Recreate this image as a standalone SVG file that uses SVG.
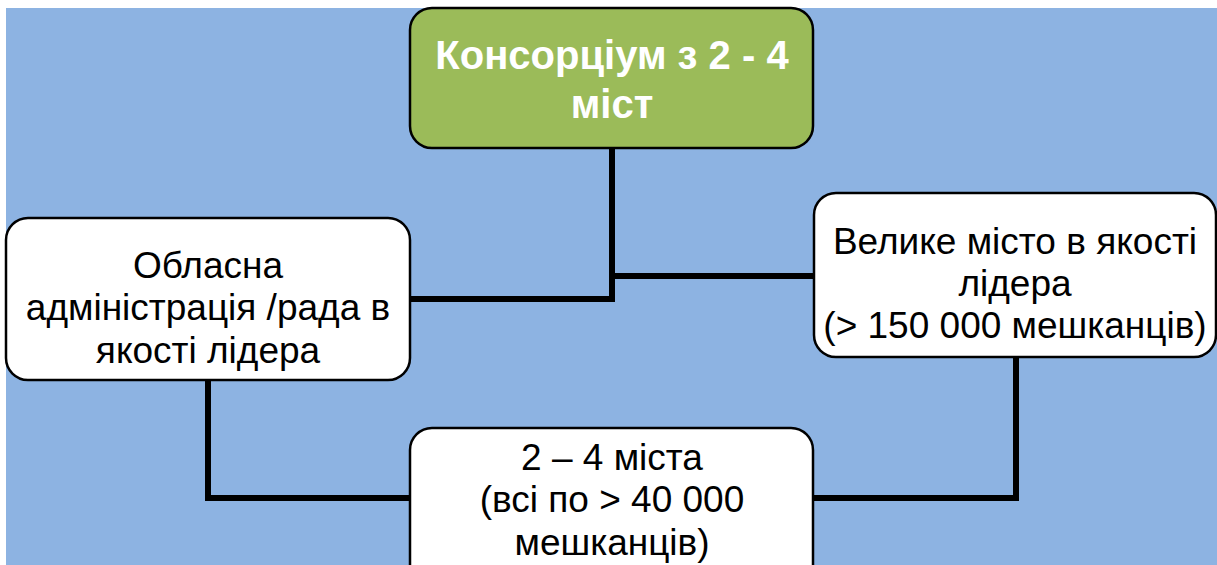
<svg xmlns="http://www.w3.org/2000/svg" width="1217" height="565" viewBox="0 0 1217 565">
<style>
.box{fill:#ffffff;stroke:#000000;stroke-width:2.5}
.top{fill:#9BBB59;stroke:#000000;stroke-width:2.5}
.t{font-family:"Liberation Sans",Arial,sans-serif;font-size:37px;fill:#000000;text-anchor:middle}
.tb{font-family:"Liberation Sans",Arial,sans-serif;font-size:40px;font-weight:bold;fill:#ffffff;text-anchor:middle}
.c{fill:none;stroke:#000000;stroke-width:6;stroke-linejoin:miter}
</style>
<rect x="0" y="0" width="1217" height="565" fill="#ffffff"/>
<rect x="6" y="8" width="1211" height="557" fill="#8DB3E2"/>
<g id="connectors">
<path class="c" d="M612,148 V299 H410"/>
<path class="c" d="M612,276 H814"/>
<path class="c" d="M208,380 V498 H410"/>
<path class="c" d="M1016,357 V498 H813"/>
</g>
<g id="node-top">
<rect class="top" x="410" y="8" width="403" height="140" rx="22"/>
<text class="tb" x="612" y="69">Консорціум з 2 - 4</text>
<text class="tb" x="612" y="118">міст</text>
</g>
<g id="node-left">
<rect class="box" x="6" y="218" width="404" height="162" rx="22"/>
<text class="t" x="208" y="278">Обласна</text>
<text class="t" x="208" y="320">адміністрація /рада в</text>
<text class="t" x="208" y="363">якості лідера</text>
</g>
<g id="node-right">
<rect class="box" x="814" y="193" width="402" height="164" rx="22"/>
<text class="t" x="1015" y="254">Велике місто в якості</text>
<text class="t" x="1015" y="296">лідера</text>
<text class="t" x="1015" y="338">(&gt; 150 000 мешканців)</text>
</g>
<g id="node-bottom">
<rect class="box" x="410" y="428" width="403" height="160" rx="22"/>
<text class="t" x="612" y="470">2 – 4 міста</text>
<text class="t" x="612" y="512">(всі по &gt; 40 000</text>
<text class="t" x="612" y="555">мешканців)</text>
</g>
</svg>
